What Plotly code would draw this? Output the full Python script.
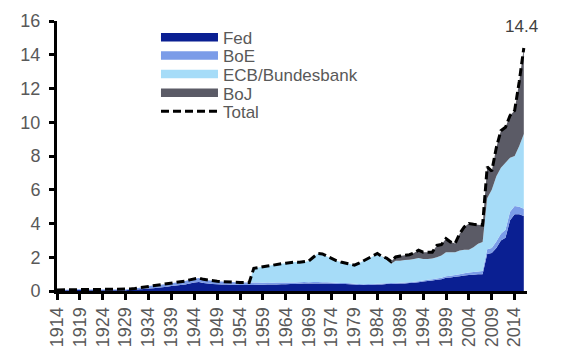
import plotly.graph_objects as go

years = list(range(1914, 2017))

fed = [
    0.02, 0.03, 0.04, 0.05, 0.06, 0.06,
    0.06, 0.05, 0.05, 0.05, 0.05, 0.05, 0.05, 0.05, 0.05, 0.05,
    0.07, 0.08, 0.10, 0.12, 0.15, 0.17, 0.19, 0.22, 0.25, 0.29,
    0.32, 0.35, 0.39, 0.45, 0.50, 0.53, 0.47, 0.44, 0.42, 0.40,
    0.39, 0.38, 0.37, 0.37, 0.36, 0.36, 0.36, 0.36, 0.37, 0.37,
    0.38, 0.38, 0.39, 0.40, 0.40, 0.41, 0.42, 0.43, 0.44, 0.44,
    0.45, 0.45, 0.45, 0.45, 0.44, 0.43, 0.42, 0.41, 0.40, 0.38,
    0.36, 0.35, 0.36, 0.37, 0.38, 0.39, 0.41, 0.42, 0.43, 0.44,
    0.45, 0.47, 0.49, 0.52, 0.56, 0.59, 0.62, 0.66, 0.70, 0.78,
    0.80, 0.84, 0.88, 0.92, 0.95, 0.97, 0.99, 1.00, 2.20, 2.25,
    2.55, 3.00, 3.15, 4.20, 4.55, 4.55, 4.45,
]

boe = [
    0.04, 0.04, 0.04, 0.04, 0.04, 0.04,
    0.04, 0.04, 0.04, 0.04, 0.04, 0.04, 0.04, 0.04, 0.04, 0.04,
    0.05, 0.07, 0.09, 0.11, 0.14, 0.15, 0.15, 0.16, 0.16, 0.17,
    0.18, 0.19, 0.20, 0.21, 0.23, 0.24, 0.22, 0.20, 0.19, 0.18,
    0.17, 0.16, 0.16, 0.15, 0.15, 0.15, 0.15, 0.14, 0.13, 0.12,
    0.12, 0.11, 0.11, 0.10, 0.10, 0.10, 0.09, 0.09, 0.09, 0.08,
    0.08, 0.08, 0.07, 0.07, 0.07, 0.06, 0.06, 0.06, 0.06, 0.05,
    0.05, 0.05, 0.05, 0.05, 0.05, 0.05, 0.05, 0.05, 0.05, 0.05,
    0.05, 0.05, 0.06, 0.06, 0.06, 0.07, 0.07, 0.08, 0.08, 0.09,
    0.10, 0.11, 0.12, 0.13, 0.14, 0.15, 0.16, 0.18, 0.28, 0.30,
    0.38, 0.40, 0.48, 0.50, 0.48, 0.44, 0.42,
]

ecb = [
    0, 0, 0, 0, 0, 0,
    0, 0, 0, 0, 0, 0, 0, 0, 0, 0,
    0, 0, 0, 0, 0, 0, 0, 0, 0, 0,
    0, 0, 0, 0, 0, 0, 0, 0, 0, 0,
    0, 0, 0, 0, 0, 0, 0, 0.84, 0.90, 0.94,
    0.98, 1.03, 1.08, 1.12, 1.15, 1.17, 1.21, 1.18, 1.19, 1.26,
    1.47, 1.69, 1.68, 1.53, 1.41, 1.31, 1.24, 1.20, 1.14, 1.10,
    1.24, 1.40, 1.49, 1.63, 1.79, 1.61, 1.39, 1.15, 1.32, 1.31,
    1.33, 1.33, 1.35, 1.37, 1.28, 1.24, 1.23, 1.26, 1.32, 1.43,
    1.40, 1.35, 1.40, 1.40, 1.36, 1.48, 1.65, 1.72, 3.02, 3.45,
    3.87, 3.90, 3.97, 3.20, 2.97, 3.61, 4.43,
]

boj = [
    0, 0, 0, 0, 0, 0,
    0, 0, 0, 0, 0, 0, 0, 0, 0, 0,
    0, 0, 0, 0, 0, 0, 0, 0, 0, 0,
    0, 0, 0, 0, 0, 0, 0, 0, 0, 0,
    0, 0, 0, 0, 0, 0, 0, 0, 0, 0,
    0, 0, 0, 0, 0, 0, 0, 0, 0, 0,
    0, 0, 0, 0, 0, 0, 0, 0, 0, 0,
    0, 0, 0, 0, 0, 0, 0.10, 0.13, 0.22, 0.27,
    0.29, 0.30, 0.35, 0.47, 0.40, 0.40, 0.38, 0.70, 0.65, 0.80,
    0.60, 0.52, 1.00, 1.35, 1.55, 1.35, 1.12, 1.00, 1.85, 1.10,
    1.70, 2.20, 2.10, 2.50, 2.70, 3.80, 5.10,
]

series_names = ["Fed", "BoE", "ECB/Bundesbank", "BoJ"]
series_values = [fed, boe, ecb, boj]
series_colors = ["#0a1f92", "#7b9ce8", "#a6dcf8", "#5b5b66"]

total = [round(a + b + c + d, 2) for a, b, c, d in zip(fed, boe, ecb, boj)]

x_ticks = list(range(1914, 2015, 5))
y_ticks = list(range(0, 17, 2))

font_family = "Liberation Sans, Arial, sans-serif"
label_grey = "#595959"

fig = go.Figure()

for name, vals, col in zip(series_names, series_values, series_colors):
    fig.add_trace(go.Scatter(
        x=years, y=vals, name=name, stackgroup="one",
        mode="none", fillcolor=col, line=dict(width=0),
        showlegend=False, hoverinfo="skip",
    ))

fig.add_trace(go.Scatter(
    x=years, y=total, name="Total", mode="lines",
    line=dict(color="black", width=3, dash="8px,4px"),
    legend="legend5", hoverinfo="skip",
))

legend_ids = ["legend", "legend2", "legend3", "legend4"]
for name, col, lid in zip(series_names, series_colors, legend_ids):
    fig.add_trace(go.Scatter(
        x=[None], y=[None], name=name, mode="lines",
        line=dict(color=col, width=5), fill="tozeroy", fillcolor=col,
        legend=lid,
    ))

legend_y = [0.937, 0.870, 0.801, 0.732, 0.664]
legend_common = dict(
    x=0.2106, xanchor="left", yanchor="middle",
    bgcolor="rgba(0,0,0,0)", borderwidth=0, itemwidth=57,
    font=dict(family=font_family, size=17, color=label_grey),
)

layout_legends = {}
for lid, ly in zip(legend_ids + ["legend5"], legend_y):
    layout_legends[lid] = dict(y=ly, **legend_common)

fig.update_layout(
    width=573, height=353,
    margin=dict(l=57, r=46, t=21, b=62, autoexpand=False),
    paper_bgcolor="white", plot_bgcolor="white",
    font=dict(family=font_family, size=18, color=label_grey),
    xaxis=dict(
        range=[1914, 2016.7], tickmode="array", tickvals=x_ticks,
        ticktext=[str(t) for t in x_ticks], tickangle=-90,
        ticks="outside", ticklen=6, tickwidth=3, tickcolor="black",
        showline=True, linewidth=3, linecolor="black",
        showgrid=False, zeroline=False, automargin=False,
        tickfont=dict(family=font_family, size=18, color=label_grey),
    ),
    yaxis=dict(
        range=[0, 16], tickmode="array", tickvals=y_ticks,
        ticks="outside", ticklen=5, tickwidth=3, tickcolor="black",
        showline=True, linewidth=3, linecolor="black",
        showgrid=False, zeroline=False, ticklabelstandoff=5,
        automargin=False,
        tickfont=dict(family=font_family, size=18, color=label_grey),
    ),
    annotations=[dict(
        x=years[-1], y=total[-1], xref="x", yref="y",
        text=f"{total[-1]:.1f}", showarrow=False,
        yanchor="middle", xanchor="center", xshift=-2, yshift=22,
        font=dict(family=font_family, size=17, color="#404040"),
    )],
    **layout_legends,
)

fig.write_html("out.html")
